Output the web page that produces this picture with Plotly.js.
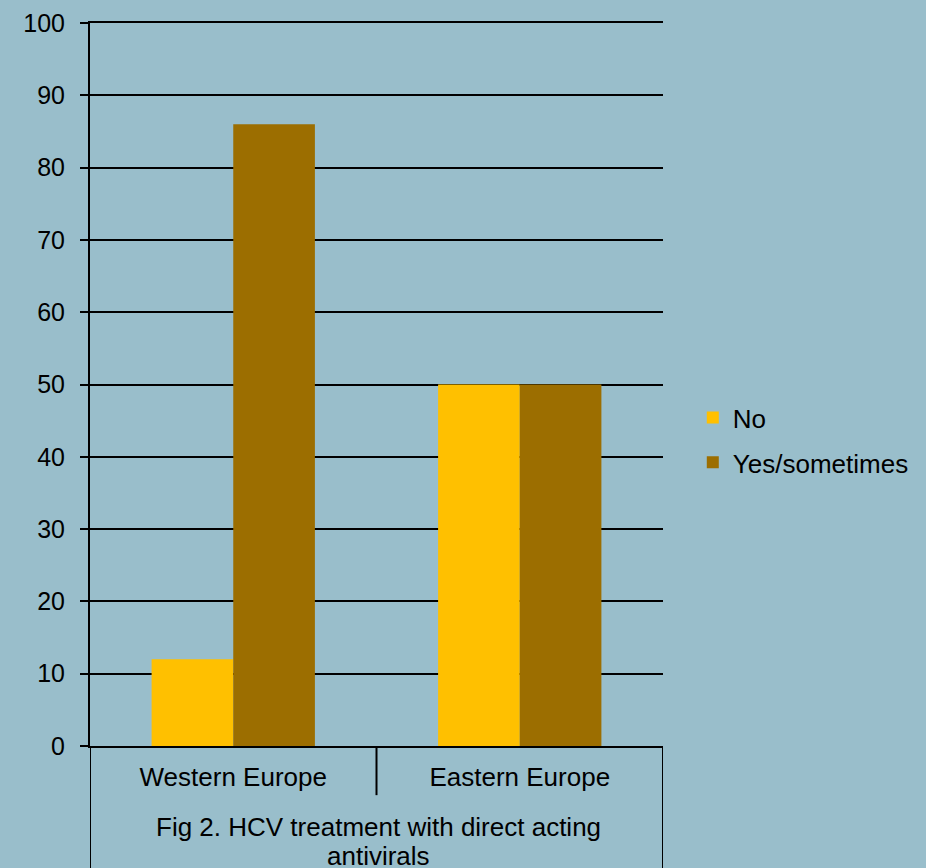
<!DOCTYPE html>
<html>
<head>
<meta charset="utf-8">
<script src="https://cdn.plot.ly/plotly-3.0.1.min.js"></script>
<style>html,body{margin:0;padding:0;background:#99BECB;}</style>
</head>
<body>
<div id="chart" style="width:926px;height:868px;"></div>
<script>
const categories = ["Western Europe", "Eastern Europe"];
const noValues = [12, 50];
const yesValues = [86, 50];
const seriesNames = ["No", "Yes/sometimes"];
const yTicks = [0, 10, 20, 30, 40, 50, 60, 70, 80, 90, 100];
const titleLines = ["Fig 2. HCV treatment with direct acting", "antivirals"];

const font = "Liberation Sans, Arial, sans-serif";
const bg = "#99BECB";

const traces = [
  {type: "bar", name: seriesNames[0], x: categories, y: noValues, legendgroup: "g1",
   marker: {color: "#FFC000", line: {width: 0}}, hoverinfo: "none"},
  {type: "bar", name: seriesNames[1], x: categories, y: yesValues, legendgroup: "g2",
   marker: {color: "#9C6E00", line: {width: 0}}, hoverinfo: "none"}
];

const n = categories.length;
const sepShapes = [];
for (let i = 0; i <= n; i++) {
  const outer = (i === 0 || i === n);
  sepShapes.push({type: "line", xref: "x", yref: "paper",
    x0: i - 0.5, x1: i - 0.5, y0: 0, y1: outer ? -0.2 : -0.068,
    line: {color: "#000", width: 2}});
}

const annotations = titleLines.map((t, i) => ({
  text: t, xref: "paper", yref: "paper",
  x: 0.503, y: -0.1125 - i * 0.0395, xanchor: "center", yanchor: "middle",
  showarrow: false, font: {family: font, size: 26, color: "#000"}
}));

const layout = {
  width: 926, height: 868,
  paper_bgcolor: bg, plot_bgcolor: bg,
  margin: {l: 90, r: 263, t: 23, b: 122},
  barmode: "group", bargap: 0.43, bargroupgap: 0,
  font: {family: font, size: 26, color: "#000"},
  showlegend: true,
  legend: {x: 1.052, y: 0.423, xanchor: "left", yanchor: "middle",
    font: {family: font, size: 26, color: "#000"}, traceorder: "grouped",
    bgcolor: "rgba(0,0,0,0)", tracegroupgap: 8, itemwidth: 30},
  xaxis: {type: "category", range: [-0.5, n - 0.5],
    showline: true, mirror: true, linecolor: "#000", linewidth: 2,
    showgrid: false, zeroline: false, ticks: "", ticklabelstandoff: 7,
    tickfont: {family: font, size: 26, color: "#000"}, fixedrange: true},
  yaxis: {range: [0, 100], tickvals: yTicks, ticktext: yTicks.map(String),
    showgrid: true, gridcolor: "#000", gridwidth: 2,
    showline: true, linecolor: "#000", linewidth: 2,
    ticks: "outside", ticklen: 8, tickcolor: "#000", tickwidth: 2,
    ticklabelstandoff: 10, zeroline: false,
    tickfont: {family: font, size: 25, color: "#000"}, fixedrange: true},
  shapes: sepShapes,
  annotations: annotations
};

Plotly.newPlot("chart", traces, layout, {displayModeBar: false, staticPlot: true});
</script>
</body>
</html>
